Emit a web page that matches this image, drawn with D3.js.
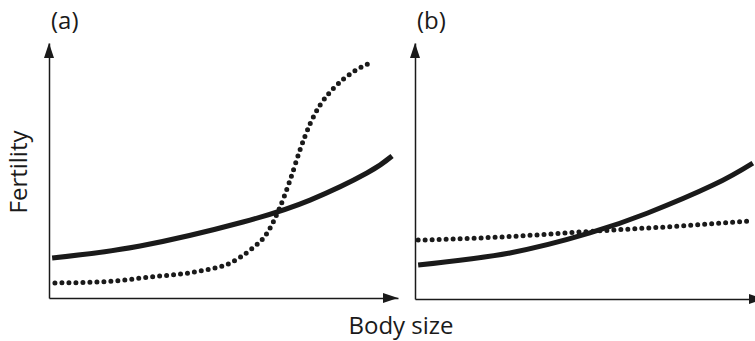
<!DOCTYPE html>
<html>
<head>
<meta charset="utf-8">
<script src="https://cdn.jsdelivr.net/npm/d3@7"></script>
<style>
  body { margin: 0; background: #fff; }
  svg { display: block; font-family: "Open Sans", sans-serif; }
</style>
</head>
<body>
<svg id="chart" width="755" height="341"></svg>
<script>
// body size values (arbitrary units 0-10) and fertility (arbitrary units 0-10)
const sizeA_solid = [0.09, 2.61, 5.56, 7.48, 9.11, 9.83]
const fertA_solid = [1.57, 2.04, 2.98, 3.84, 4.9, 5.57]
const sizeA_dot = [0.17, 1.46, 2.89, 4.33, 5.19, 5.76, 6.25, 6.62, 6.91, 7.19, 7.48, 7.77, 8.14, 8.71, 9.26]
const fertA_dot = [0.59, 0.63, 0.82, 1.06, 1.37, 1.88, 2.55, 3.57, 4.63, 5.8, 6.83, 7.57, 8.2, 8.86, 9.25]

const sizeB_solid = [0.09, 2.72, 5.01, 6.65, 8.54, 9.68]
const fertB_solid = [1.33, 1.8, 2.58, 3.35, 4.45, 5.31]
const sizeB_dot = [0.09, 2.72, 5.01, 7.59, 9.66]
const fertB_dot = [2.3, 2.44, 2.64, 2.85, 3.05]

const panelLabels = ["(a)", "(b)"]
const xLabel = "Body size"
const yLabel = "Fertility"

const svg = d3.select("#chart")
const ink = "#1a1a1a"

function zip(xs, ys){
    return xs.map((x, i) => ({x: x, y: ys[i]}))
}

function drawPanel(opts){
    const x = d3.scaleLinear().domain([0, 10]).range([opts.left, opts.right])
    const y = d3.scaleLinear().domain([0, 10]).range([opts.bottom, opts.top])
    const g = svg.append("g")

    g.append("g")
        .attr("transform", `translate(0, ${opts.bottom})`)
        .call(d3.axisBottom(x).ticks(0).tickSizeOuter(0))
    g.append("g")
        .attr("transform", `translate(${opts.left}, 0)`)
        .call(d3.axisLeft(y).ticks(0).tickSizeOuter(0))
    g.selectAll(".domain").attr("stroke", ink).attr("stroke-width", 1.5)

    // arrow heads
    const xe = x.range()[1], ye = y.range()[1]
    g.append("path")
        .attr("d", `M${xe},${opts.bottom} L${xe-15},${opts.bottom-5} L${xe-15},${opts.bottom+5} Z`)
        .attr("fill", ink)
    g.append("path")
        .attr("d", `M${opts.left},${ye} L${opts.left-5},${ye+15} L${opts.left+5},${ye+15} Z`)
        .attr("fill", ink)

    const smooth = d3.line()
        .x(d => x(d.x))
        .y(d => y(d.y))
        .curve(d3.curveNatural)
    const line = d3.line()
        .x(d => x(d.x))
        .y(d => y(d.y))
        .curve(d3.curveMonotoneX)

    g.append("path")
        .datum(zip(opts.solidX, opts.solidY))
        .attr("fill", "none")
        .attr("stroke", ink)
        .attr("stroke-width", 5)
        .attr("d", smooth)

    g.append("path")
        .datum(zip(opts.dotX, opts.dotY))
        .attr("fill", "none")
        .attr("stroke", ink)
        .attr("stroke-width", 5)
        .attr("stroke-linecap", "round")
        .attr("stroke-dasharray", "0,7")
        .attr("d", line)

    g.append("text")
        .attr("x", opts.left + 2)
        .attr("y", 29)
        .attr("fill", ink)
        .style("font-size", "24px")
        .text(opts.label)
}

drawPanel({left: 49, right: 398, top: 43, bottom: 298,
    solidX: sizeA_solid, solidY: fertA_solid, dotX: sizeA_dot, dotY: fertA_dot,
    label: panelLabels[0]})
drawPanel({left: 415, right: 764, top: 43, bottom: 299,
    solidX: sizeB_solid, solidY: fertB_solid, dotX: sizeB_dot, dotY: fertB_dot,
    label: panelLabels[1]})

svg.append("text")
    .attr("x", 401)
    .attr("y", 334)
    .attr("text-anchor", "middle")
    .attr("fill", ink)
    .style("font-size", "24px")
    .text(xLabel)

svg.append("text")
    .attr("transform", "translate(27, 172) rotate(-90)")
    .attr("text-anchor", "middle")
    .attr("fill", ink)
    .style("font-size", "24px")
    .text(yLabel)
</script>
</body>
</html>
